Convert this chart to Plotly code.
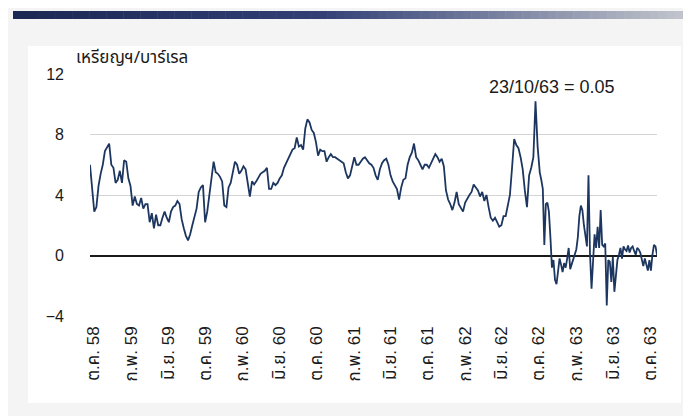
import pandas as pd
import plotly.graph_objects as go

# ---------------- data ----------------
# weekly readings (Fridays) 18 Sep 2015 .. 4 Oct 2019
weekly_dates = pd.date_range("2015-09-18", "2019-10-04", freq="W-FRI")
weekly_values = [
    6.0, 4.4, 2.9, 3.2, 4.6, 5.4, 6.0, 6.9, 7.2, 7.4,
    6.0, 5.8, 4.8, 5.0, 5.6, 4.8, 6.3, 6.2, 5.1, 4.6,
    3.3, 3.9, 3.4, 3.3, 3.8, 3.1, 3.4, 3.4, 2.2, 2.8,
    1.8, 2.7, 2.0, 2.0, 2.5, 2.9, 2.5, 2.2, 2.9, 3.2,
    3.3, 3.6, 3.4, 2.4, 1.8, 1.3, 1.0, 1.4, 2.0, 2.5,
    3.1, 4.2, 4.5, 4.65, 2.2, 2.9, 4.0, 5.1, 6.2, 5.5,
    5.4, 5.2, 4.9, 3.3, 3.2, 4.5, 4.8, 5.5, 6.2, 6.0,
    5.4, 5.6, 5.9, 5.7, 4.7, 3.9, 4.9, 4.7, 4.9, 5.2,
    5.4, 5.5, 5.6, 5.8, 4.4, 4.4, 4.8, 4.65, 4.8, 5.1,
    5.3, 5.8, 6.1, 6.4, 6.7, 7.0, 7.1, 7.8, 7.2, 7.3,
    7.0, 8.4, 9.0, 8.8, 8.3, 8.1, 7.5, 6.6, 7.0, 6.9,
    6.9, 6.2, 6.5, 6.7, 6.5, 6.5, 6.4, 6.3, 6.2, 6.1,
    5.5, 5.1, 5.3, 5.9, 6.5, 6.0, 6.0, 6.2, 6.4, 6.5,
    6.3, 6.1, 6.0, 5.8, 5.3, 5.0, 5.7, 6.1, 6.3, 6.4,
    6.0, 5.3, 4.9, 4.6, 4.4, 3.7, 4.5, 5.0, 5.1, 6.0,
    6.5, 6.8, 7.4, 6.5, 6.3, 6.0, 5.7, 6.0, 6.0, 5.8,
    6.1, 6.4, 6.7, 6.5, 6.2, 6.4, 5.9, 4.3, 3.7, 3.4,
    3.0, 3.5, 4.2, 3.4, 3.1, 2.9, 3.5, 3.8, 4.0, 4.2,
    4.7, 4.5, 4.3, 3.9, 4.2, 3.6, 4.0, 3.2, 2.5, 2.3,
    2.5, 2.2, 1.9, 2.0, 2.6, 2.6, 3.2, 4.0, 5.8, 7.7,
    7.3, 7.1, 6.5, 5.7, 4.3, 3.2, 5.3, 5.8, 6.5, 10.2,
    7.2, 5.5,
]
# denser readings (every 5 days) 9 Oct 2019 .. 23 Oct 2020
dense_dates = pd.date_range(end="2020-10-23", periods=77, freq="5D")
dense_values = [
    5.0, 4.4, 0.7, 3.4, 3.5, 2.9, 1.2, -0.8, -0.3, -1.6,
    -1.9, -1.0, -0.2, -0.6, -1.1, -0.5, -0.8, -0.2, 0.5, -0.9,
    -0.6, -0.3, 0.0, 0.4, 1.2, 2.6, 3.3, 3.0, 2.0, 1.4,
    0.6, 5.3, 0.1, -2.2, -0.2, 1.4, 0.5, 1.9, 0.5, 3.0,
    0.7, 0.6, 0.8, -3.3, -0.3, -0.4, -1.75, -0.1, -2.4, -1.2,
    -0.3, 0.05, 0.5, -0.2, 0.6, 0.4, 0.3, 0.66, 0.2, 0.5,
    0.6, 0.3, 0.05, 0.5, 0.4, 0.2, -0.2, -0.7, -0.2, -0.6,
    -1.0, -0.3, -1.0, 0.05, 0.7, 0.6, 0.05,
]

dates = list(weekly_dates[:len(weekly_values)]) + list(dense_dates[:len(dense_values)])
values = weekly_values[:len(weekly_dates)] + dense_values

tick_dates = ["2015-10-01", "2016-02-01", "2016-06-01", "2016-10-01",
              "2017-02-01", "2017-06-01", "2017-10-01", "2018-02-01",
              "2018-06-01", "2018-10-01", "2019-02-01", "2019-06-01",
              "2019-10-01", "2020-02-01", "2020-06-01", "2020-10-01"]
tick_labels = ["ต.ค. 58", "ก.พ. 59", "มิ.ย. 59", "ต.ค. 59",
               "ก.พ. 60", "มิ.ย. 60", "ต.ค. 60", "ก.พ. 61",
               "มิ.ย. 61", "ต.ค. 61", "ก.พ. 62", "มิ.ย. 62",
               "ต.ค. 62", "ก.พ. 63", "มิ.ย. 63", "ต.ค. 63"]
y_ticks = [-4, 0, 4, 8, 12]
unit_label = "เหรียญฯ/บาร์เรล"
note_label = "23/10/63 = 0.05"

# ---------------- figure ----------------
FONT = "Liberation Sans, Arial, Noto Sans Thai, sans-serif"
W, H = 691, 416
L, R, T, B = 82, 42, 66, 108
pw, ph = W - L - R, H - T - B

def px(x):
    return (x - L) / pw

def py(y):
    return (H - B - y) / ph

fig = go.Figure()
fig.add_trace(go.Scatter(
    x=dates, y=values, mode="lines",
    line=dict(color="#1d3660", width=1.8),
    hoverinfo="skip", showlegend=False,
))

shapes = []
# white panel
shapes.append(dict(type="rect", xref="paper", yref="paper",
                   x0=px(20), x1=px(673), y0=py(395), y1=py(38),
                   fillcolor="white", line=dict(width=0), layer="below"))
# gradient bar at top
n = 80
c0 = (28, 40, 84)
c1 = (50, 64, 118)
c2 = (196, 199, 206)
for k in range(n):
    t = k / (n - 1)
    if t < 0.45:
        u = t / 0.45
        col = tuple(int(c0[j] + (c1[j] - c0[j]) * u) for j in range(3))
    else:
        u = (t - 0.45) / 0.55
        col = tuple(int(c1[j] + (c2[j] - c1[j]) * u) for j in range(3))
    xa = 5 + (684 - 5) * k / n
    xb = 5 + (684 - 5) * (k + 1) / n + 0.5
    shapes.append(dict(type="rect", xref="paper", yref="paper",
                       x0=px(xa), x1=px(xb), y0=py(11), y1=py(3),
                       fillcolor="rgb(%d,%d,%d)" % col, line=dict(width=0),
                       layer="below"))

fig.update_layout(
    width=W, height=H,
    margin=dict(l=L, r=R, t=T, b=B),
    paper_bgcolor="#f4f4f4",
    plot_bgcolor="rgba(0,0,0,0)",
    font=dict(family=FONT, size=16, color="#1a1a1a"),
    shapes=shapes,
    xaxis=dict(
        range=[dates[0], dates[-1]],
        tickmode="array", tickvals=tick_dates, ticktext=tick_labels,
        tickangle=-90, showgrid=False, zeroline=False, showline=False,
        ticks="", tickfont=dict(size=17, color="#1a1a1a"),
        ticklabelstandoff=6,
    ),
    yaxis=dict(
        range=[-4, 12], tickmode="array", tickvals=y_ticks,
        showgrid=True, gridcolor="#d4d4d4", gridwidth=1,
        zeroline=True, zerolinecolor="#1a1a1a", zerolinewidth=1.6,
        showline=False, ticks="", tickfont=dict(size=16, color="#1a1a1a"),
        ticklabelstandoff=25,
    ),
    annotations=[
        dict(text=unit_label, xref="paper", yref="paper",
             x=px(66), y=py(50), xanchor="left", yanchor="middle",
             showarrow=False,
             font=dict(size=17, color="#1a1a1a",
                       family="Noto Sans Thai, Liberation Sans, sans-serif")),
        dict(text=note_label, xref="paper", yref="paper",
             x=px(544), y=py(79), xanchor="center", yanchor="middle",
             showarrow=False, font=dict(size=18, color="#1a1a1a")),
    ],
)

fig.write_html("out.html")
